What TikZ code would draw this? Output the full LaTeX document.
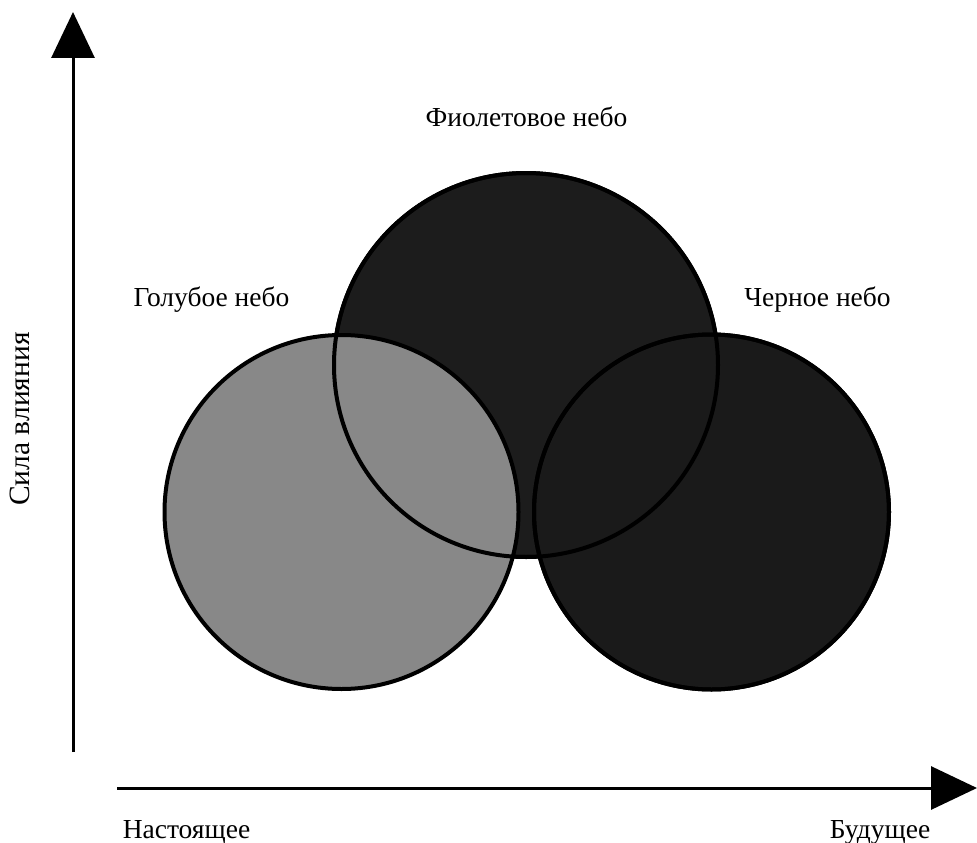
\documentclass[tikz,border=0pt]{standalone}
\usepackage{fontspec}
\setmainfont{Liberation Serif}
\usetikzlibrary{arrows.meta}
\definecolor{grayfill}{HTML}{888888}
\definecolor{violetfill}{HTML}{1C1C1C}
\definecolor{blackfill}{HTML}{1A1A1A}
\begin{document}
\begin{tikzpicture}[x=1pt,y=-1pt,
  lbl/.style={font=\fontsize{27.5}{30}\selectfont, inner sep=0pt},
  ring/.style={circle, draw=black, line width=4pt, inner sep=0pt},
  axis/.style={line width=3pt, -{Triangle[length=46pt,width=43pt]}}]
\useasboundingbox (0,0) rectangle (977,843);
% fills
\node[ring, fill=violetfill, minimum size=384pt] (violet) at (526,365) {};
\node[ring, fill=blackfill, minimum size=355pt] (black) at (711.5,512) {};
\node[ring, fill=grayfill, minimum size=354pt] (blue) at (341.5,512) {};
% outlines on top
\node[ring, minimum size=384pt] at (violet) {};
\node[ring, minimum size=355pt] at (black) {};
% axes
\coordinate (o1) at (73,752);
\coordinate (ytip) at (73,12);
\coordinate (o2) at (117,788);
\coordinate (xtip) at (977,788);
\draw[axis] (o1) -- (ytip);
\draw[axis] (o2) -- (xtip);
% labels
\node[lbl] (lv) at (526.5,117) {Фиолетовое небо};
\node[lbl] (lb) at (211.5,300) {Голубое небо};
\node[lbl] (lk) at (817.5,300) {Черное небо};
\node[lbl, font=\fontsize{29.5}{32}\selectfont, rotate=90] (ly) at (20,419) {Сила влияния};
\node[lbl] (lnow) at (186.5,832) {Настоящее};
\node[lbl] (lfut) at (880,832) {Будущее};
\end{tikzpicture}
\end{document}
